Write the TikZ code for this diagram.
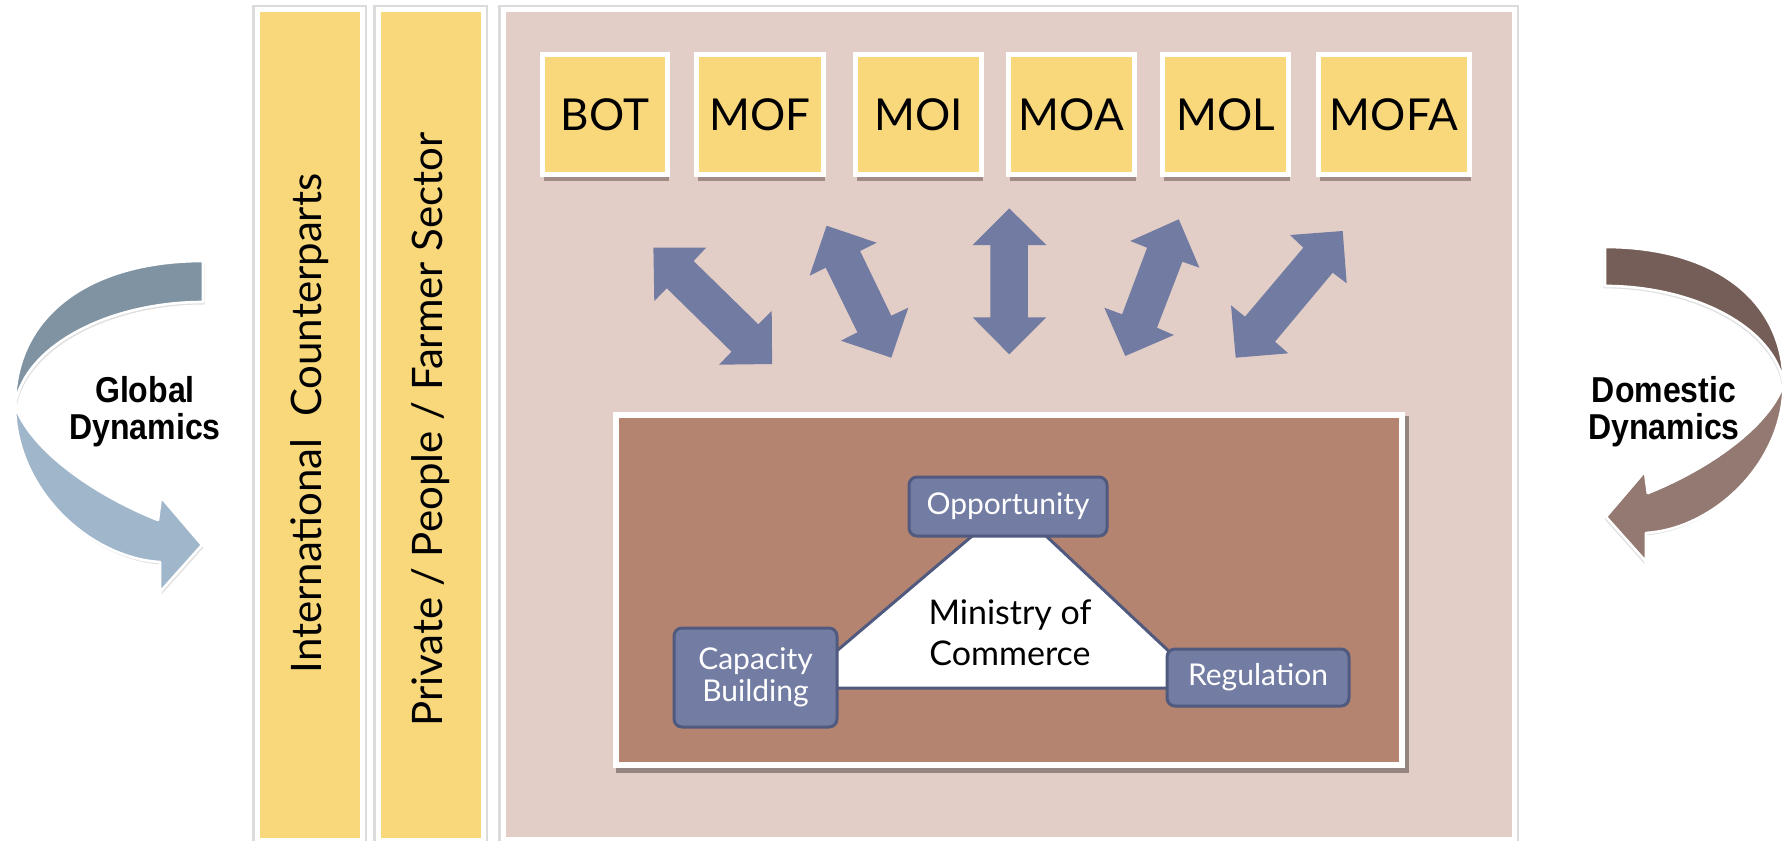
\documentclass[tikz,border=0pt]{standalone}
\usepackage{fontspec}
\setmainfont{Lato}
\newfontfamily\dynfont[FakeStretch=0.89]{Liberation Sans}
\usetikzlibrary{shadows}
\definecolor{cyellow}{RGB}{249,216,124}
\definecolor{cpink}{RGB}{226,206,199}
\definecolor{cbrown}{RGB}{181,132,112}
\definecolor{carrow}{RGB}{114,123,162}
\definecolor{cbox}{RGB}{115,124,163}
\definecolor{cborder}{RGB}{80,90,127}
\definecolor{gdark}{RGB}{127,147,163}
\definecolor{glight}{RGB}{160,182,203}
\definecolor{ddark}{RGB}{117,94,87}
\definecolor{dlight}{RGB}{147,121,113}
\definecolor{cshadow}{RGB}{150,128,122}
\newcommand\curvedshape[2]{%
  \fill[black,opacity=0.12,shift={(1.5,2.5)}] (0,0) .. controls (-113,0) and (-188,54) .. (-188,144)
     .. controls (-188,229) and (-113,297) .. (-43,301) -- (-43,331) -- (-1,284) -- (-42,236) -- (-45,259)
     .. controls (-108,234) and (-173,189) .. (-188,144) .. controls (-178,84) and (-93,41) .. (0,41) -- cycle;
  \fill[#1] (0,0) .. controls (-113,0) and (-188,54) .. (-188,144)
     .. controls (-178,84) and (-93,41) .. (0,41) -- cycle;
  \fill[#2] (-188,144) .. controls (-188,229) and (-113,297) .. (-43,301) -- (-43,331) -- (-1,284)
     -- (-42,236) -- (-45,259) .. controls (-108,234) and (-173,189) .. (-188,144) -- cycle;
  \draw[white,line width=1.3pt,line join=round] (0,0) .. controls (-113,0) and (-188,54) .. (-188,144)
     .. controls (-188,229) and (-113,297) .. (-43,301) -- (-43,331) -- (-1,284) -- (-42,236) -- (-45,259)
     .. controls (-108,234) and (-173,189) .. (-188,144) .. controls (-178,84) and (-93,41) .. (0,41) -- cycle;
}
\begin{document}
\begin{tikzpicture}[x=0.5pt,y=-0.5pt,
  topbox/.style={fill=cyellow, draw=white, line width=2.5pt, minimum height=60pt, inner sep=0pt,
    font=\fontsize{22}{26}\selectfont,
    drop shadow={shadow xshift=0.5pt, shadow yshift=-3pt, fill=cshadow, opacity=0.85}},
  bluebox/.style={fill=cbox, draw=cborder, line width=1.5pt, rounded corners=4pt, text=white,
    align=center, inner sep=0pt, font=\fontsize{15}{16}\selectfont},
  dbl/.style={fill=carrow},
  coltext/.style={rotate=90, inner sep=0pt, font=\fontsize{21}{25}\selectfont},
  dyntext/.style={align=center, inner sep=0pt, font=\dynfont\bfseries\fontsize{18}{18.5}\selectfont}]
\useasboundingbox (0,0) rectangle (1783,841);
\fill[white] (0,0) rectangle (1783,841);

% side columns
\foreach \a/\b in {260/360, 381/481} {
  \fill[black!14] (\a-8,5) rectangle (\b+7,841);
  \fill[white] (\a-5,7) rectangle (\b+5,841);
  \fill[cyellow] (\a,12) rectangle (\b,838);
}
\node[coltext] (intl) at (309.5,423.5) {International\ \ Counterparts};
\node[coltext] (priv) at (430.5,429.5) {Private / People / Farmer Sector};

% main panel
\fill[black!14] (498,5) rectangle (1519,841);
\fill[white] (501,7) rectangle (1517,841);
\fill[cpink] (506,12) rectangle (1512,837);

% top boxes
\node[topbox, minimum width=62.5pt] (BOT)  at (605,114.5)    {BOT};
\node[topbox, minimum width=63.5pt] (MOF)  at (760,114.5)    {MOF};
\node[topbox, minimum width=63pt]   (MOI)  at (918.5,114.5)  {MOI};
\node[topbox, minimum width=63pt]   (MOA)  at (1071.5,114.5) {MOA};
\node[topbox, minimum width=63pt]   (MOL)  at (1225.5,114.5) {MOL};
\node[topbox, minimum width=75.5pt] (MOFA) at (1394,114.5)   {MOFA};

% double arrows
\fill[dbl] (653.4,247.7) -- (706.1,247.7) -- (693.6,261) -- (758.3,324.3) -- (771.7,311) -- (772.1,364)
  -- (719,364.7) -- (731.5,351.7) -- (666.8,288.3) -- (654.3,301) -- cycle;
\fill[dbl] (826.6,225.7) -- (876.6,242.7) -- (860.1,251) -- (891.3,315.7) -- (908.3,307.7) -- (891.3,357.7)
  -- (840.9,340.7) -- (857.4,332.3) -- (825.7,267.7) -- (809.6,275.7) -- cycle;
\fill[dbl] (1009.2,208.3) -- (1046.3,245) -- (1027.9,245) -- (1027.9,317.3) -- (1046.3,317.3) -- (1009.2,354.3)
  -- (972.6,317.3) -- (990.4,317.3) -- (990.4,245) -- (972.6,245) -- cycle;
\fill[dbl] (1178.8,219.3) -- (1199.4,267.7) -- (1182.4,261.7) -- (1157,327.7) -- (1173.9,335) -- (1125.3,356)
  -- (1104.3,307.7) -- (1122.1,314.3) -- (1147.1,247.7) -- (1130.2,241) -- cycle;
\fill[dbl] (1342.7,231) -- (1346.7,283.3) -- (1332.7,272.7) -- (1275,341.7) -- (1288.3,353.3) -- (1235.7,357.7)
  -- (1231,305.3) -- (1245,316.7) -- (1303.3,247.7) -- (1290,235) -- cycle;

% inner brown box
\fill[black,opacity=0.35] (616,416) rectangle (1409,773);
\fill[white] (613,412) rectangle (1405,768);
\fill[cbrown] (619,418) rectangle (1399,762);

% triangle
\filldraw[fill=white, draw=cborder, line width=1.5pt, line join=round]
  (1011,503) -- (793,688) -- (1208,688) -- cycle;
\node[inner sep=0pt, align=center, font=\fontsize{17}{20.5}\selectfont] (moc) at (1010,633) {Ministry of\\Commerce};

% blue boxes
\node[bluebox, minimum width=99pt, minimum height=29.5pt] (opp) at (1008,506.5) {Opportunity};
\node[bluebox, minimum width=81.5pt, minimum height=49.5pt] (cap) at (755.5,677.5) {Capacity\\Building};
\node[bluebox, minimum width=91pt, minimum height=28.5pt] (reg) at (1258,677.5) {Regulation};

% curved arrows
\begin{scope}[shift={(203,261)}]
  \curvedshape{gdark}{glight}
\end{scope}
\begin{scope}[shift={(1605,247)}]
  \begin{scope}[xscale=-0.95,yscale=0.95]
    \curvedshape{ddark}{dlight}
  \end{scope}
\end{scope}
\node[dyntext] (glob) at (145,412) {Global\\Dynamics};
\node[dyntext] (dom) at (1664,412) {Domestic\\Dynamics};
\end{tikzpicture}
\end{document}
